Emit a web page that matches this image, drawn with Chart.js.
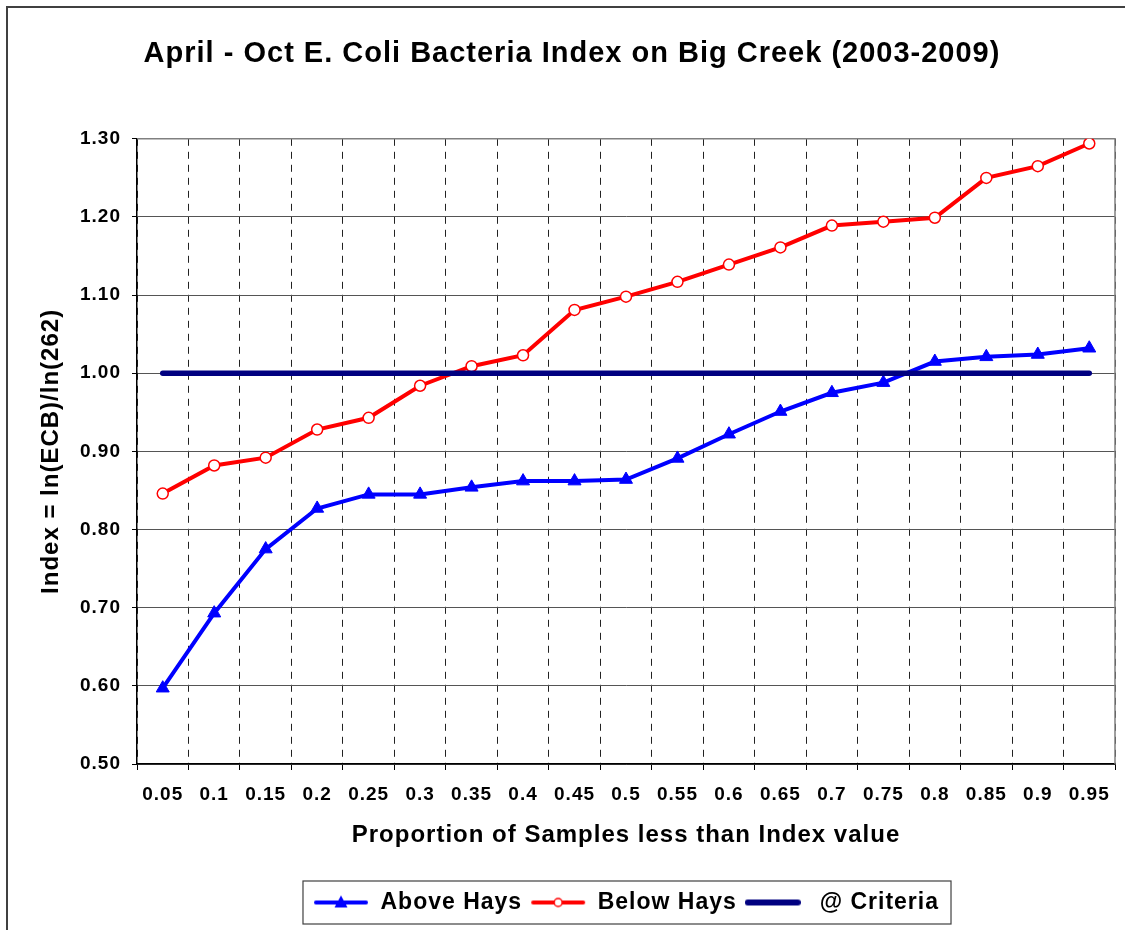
<!DOCTYPE html>
<html>
<head>
<meta charset="utf-8">
<title>April - Oct E. Coli Bacteria Index on Big Creek</title>
<script src="https://cdn.jsdelivr.net/npm/chart.js@4.4.1/dist/chart.umd.min.js"></script>
<style>
  html, body { margin: 0; padding: 0; background: #fff; }
  canvas { display: block; }
</style>
</head>
<body>
<canvas id="chart" width="1125" height="930"></canvas>
<script>
// values
const proportions = ['0.05', '0.1', '0.15', '0.2', '0.25', '0.3', '0.35', '0.4', '0.45', '0.5',
                     '0.55', '0.6', '0.65', '0.7', '0.75', '0.8', '0.85', '0.9', '0.95'];
const aboveHays = [0.597, 0.693, 0.775, 0.827, 0.845, 0.845, 0.854, 0.862, 0.862, 0.864,
                   0.891, 0.922, 0.951, 0.975, 0.988, 1.015, 1.021, 1.024, 1.032];
const belowHays = [0.846, 0.882, 0.892, 0.928, 0.943, 0.984, 1.009, 1.023, 1.081, 1.098,
                   1.117, 1.139, 1.161, 1.189, 1.194, 1.199, 1.250, 1.265, 1.294];
const criteria  = [1.00, 1.00, 1.00, 1.00, 1.00, 1.00, 1.00, 1.00, 1.00, 1.00,
                   1.00, 1.00, 1.00, 1.00, 1.00, 1.00, 1.00, 1.00, 1.00];
const seriesNames = ['Above Hays', 'Below Hays', ' @ Criteria'];
const yMin = 0.5, yMax = 1.3, yStep = 0.1;

const FONT = '"Liberation Sans", Arial, sans-serif';
const SPACING = '1px';

function legendIcon(color, width, marker) {
    const c = document.createElement('canvas');
    c.width = 56; c.height = 18;
    const g = c.getContext('2d');
    g.strokeStyle = color;
    g.lineWidth = width;
    g.lineCap = 'round';
    g.beginPath(); g.moveTo(3, 9); g.lineTo(53, 9); g.stroke();
    if (marker === 'triangle') {
        g.fillStyle = color;
        g.beginPath(); g.moveTo(28, 2); g.lineTo(34.5, 14); g.lineTo(21.5, 14); g.closePath(); g.fill();
    } else if (marker === 'circle') {
        g.fillStyle = '#fff';
        g.lineWidth = 1.5;
        g.beginPath(); g.arc(28, 9, 4, 0, Math.PI * 2); g.fill(); g.stroke();
    }
    return c;
}

const icons = [legendIcon('#0000ff', 4, 'triangle'), legendIcon('#ff0000', 4, 'circle'), legendIcon('#000080', 6, null)];

const decor = {
    id: 'decor',
    beforeLayout(chart) { chart.ctx.letterSpacing = SPACING; },
    afterLayout(chart) {
        // centre the legend under the plot area, like the original
        const lg = chart.legend, a = chart.chartArea;
        const shift = (a.left + a.right) / 2 - (lg.left + lg.right) / 2;
        lg.left += shift * 2;
        // the title sits a little right of the page centre
        chart.titleBlock.left += 21;
    },
    beforeDraw(chart) {
        const ctx = chart.ctx;
        ctx.letterSpacing = SPACING;
        ctx.save();
        ctx.fillStyle = '#fff';
        ctx.fillRect(0, 0, chart.width, chart.height);
        ctx.strokeStyle = '#404040';
        ctx.lineWidth = 2;
        ctx.beginPath();
        ctx.moveTo(7, chart.height); ctx.lineTo(7, 7); ctx.lineTo(chart.width, 7);
        ctx.stroke();
        ctx.restore();
    },
    beforeDatasetsDraw(chart) {
        const {ctx, chartArea: a} = chart;
        ctx.save();
        ctx.strokeStyle = '#808080';
        ctx.lineWidth = 1.5;
        ctx.beginPath();
        ctx.moveTo(a.left, a.top); ctx.lineTo(a.right, a.top); ctx.lineTo(a.right, a.bottom);
        ctx.stroke();
        ctx.restore();
    },
    afterDraw(chart) {
        const boxes = chart.legend.legendHitBoxes;
        if (!boxes || !boxes.length) return;
        const left = Math.min(...boxes.map(b => b.left));
        const right = Math.max(...boxes.map(b => b.left + b.width));
        const cy = boxes[0].top + boxes[0].height / 2;
        const ctx = chart.ctx;
        ctx.save();
        ctx.strokeStyle = '#404040';
        ctx.lineWidth = 1.2;
        ctx.strokeRect(left - 10, cy - 21.5, right - left + 22, 43);
        ctx.restore();
    }
};

new Chart(document.getElementById('chart'), {
    type: 'line',
    data: {
        labels: proportions,
        datasets: [
            { label: seriesNames[0], data: aboveHays, borderColor: '#0000ff', backgroundColor: '#0000ff',
              borderWidth: 4, pointStyle: 'triangle', pointRadius: 7.5, pointBorderWidth: 1,
              pointBackgroundColor: '#0000ff', pointBorderColor: '#0000ff', order: 3 },
            { label: seriesNames[1], data: belowHays, borderColor: '#ff0000', backgroundColor: '#ff0000',
              borderWidth: 4, pointStyle: 'circle', pointRadius: 5.5, pointBorderWidth: 1.5,
              pointBackgroundColor: '#ffffff', pointBorderColor: '#ff0000', order: 2 },
            { label: seriesNames[2], data: criteria, borderColor: '#000080', backgroundColor: '#000080',
              borderWidth: 5.5, borderCapStyle: 'round', pointRadius: 0, order: 1 }
        ]
    },
    options: {
        responsive: false,
        animation: false,
        events: [],
        layout: { padding: { left: 8, right: 10, top: 0, bottom: 6 } },
        plugins: {
            title: {
                display: true,
                text: 'April - Oct E. Coli Bacteria Index on Big Creek (2003-2009)',
                color: '#000',
                font: { family: FONT, size: 29, weight: 'bold' },
                padding: { top: 37, bottom: 67 }
            },
            legend: {
                position: 'bottom',
                labels: {
                    color: '#000',
                    font: { family: FONT, size: 23, weight: 'bold' },
                    usePointStyle: true,
                    pointStyleWidth: 56,
                    padding: 8,
                    generateLabels: (chart) => chart.data.datasets.map((ds, i) => ({
                        text: ds.label,
                        fillStyle: ds.borderColor,
                        strokeStyle: ds.borderColor,
                        fontColor: '#000',
                        lineWidth: 0,
                        pointStyle: icons[i],
                        hidden: false,
                        datasetIndex: i
                    }))
                }
            },
            tooltip: { enabled: false }
        },
        scales: {
            x: {
                offset: true,
                grid: { offset: true, color: '#222', lineWidth: 1, tickLength: 6, tickColor: '#000', tickWidth: 1, tickBorderDash: [] },
                border: { color: '#000', width: 1.5, dash: [7, 6] },
                ticks: { color: '#000', padding: 13, maxRotation: 0, autoSkip: false,
                         font: { family: FONT, size: 19, weight: 'bold' } },
                title: { display: true, text: 'Proportion of Samples less than Index value', color: '#000',
                         font: { family: FONT, size: 24, weight: 'bold' }, padding: { top: 0, bottom: 33 } },
                afterFit(scale) { scale.height = 119; }
            },
            y: {
                min: yMin,
                max: yMax,
                grid: { color: '#555', lineWidth: 1, tickLength: 5, tickColor: '#000' },
                border: { color: '#000', width: 1.5 },
                ticks: { stepSize: yStep, color: '#000', padding: 11,
                         font: { family: FONT, size: 19, weight: 'bold' },
                         callback: (v) => Number(v).toFixed(2) },
                title: { display: true, text: 'Index = ln(ECB)/ln(262)', color: '#000',
                         font: { family: FONT, size: 24, weight: 'bold' }, padding: { top: 29, bottom: 0 } },
                afterFit(scale) { scale.width = 129; }
            }
        }
    },
    plugins: [decor]
});
</script>
</body>
</html>
